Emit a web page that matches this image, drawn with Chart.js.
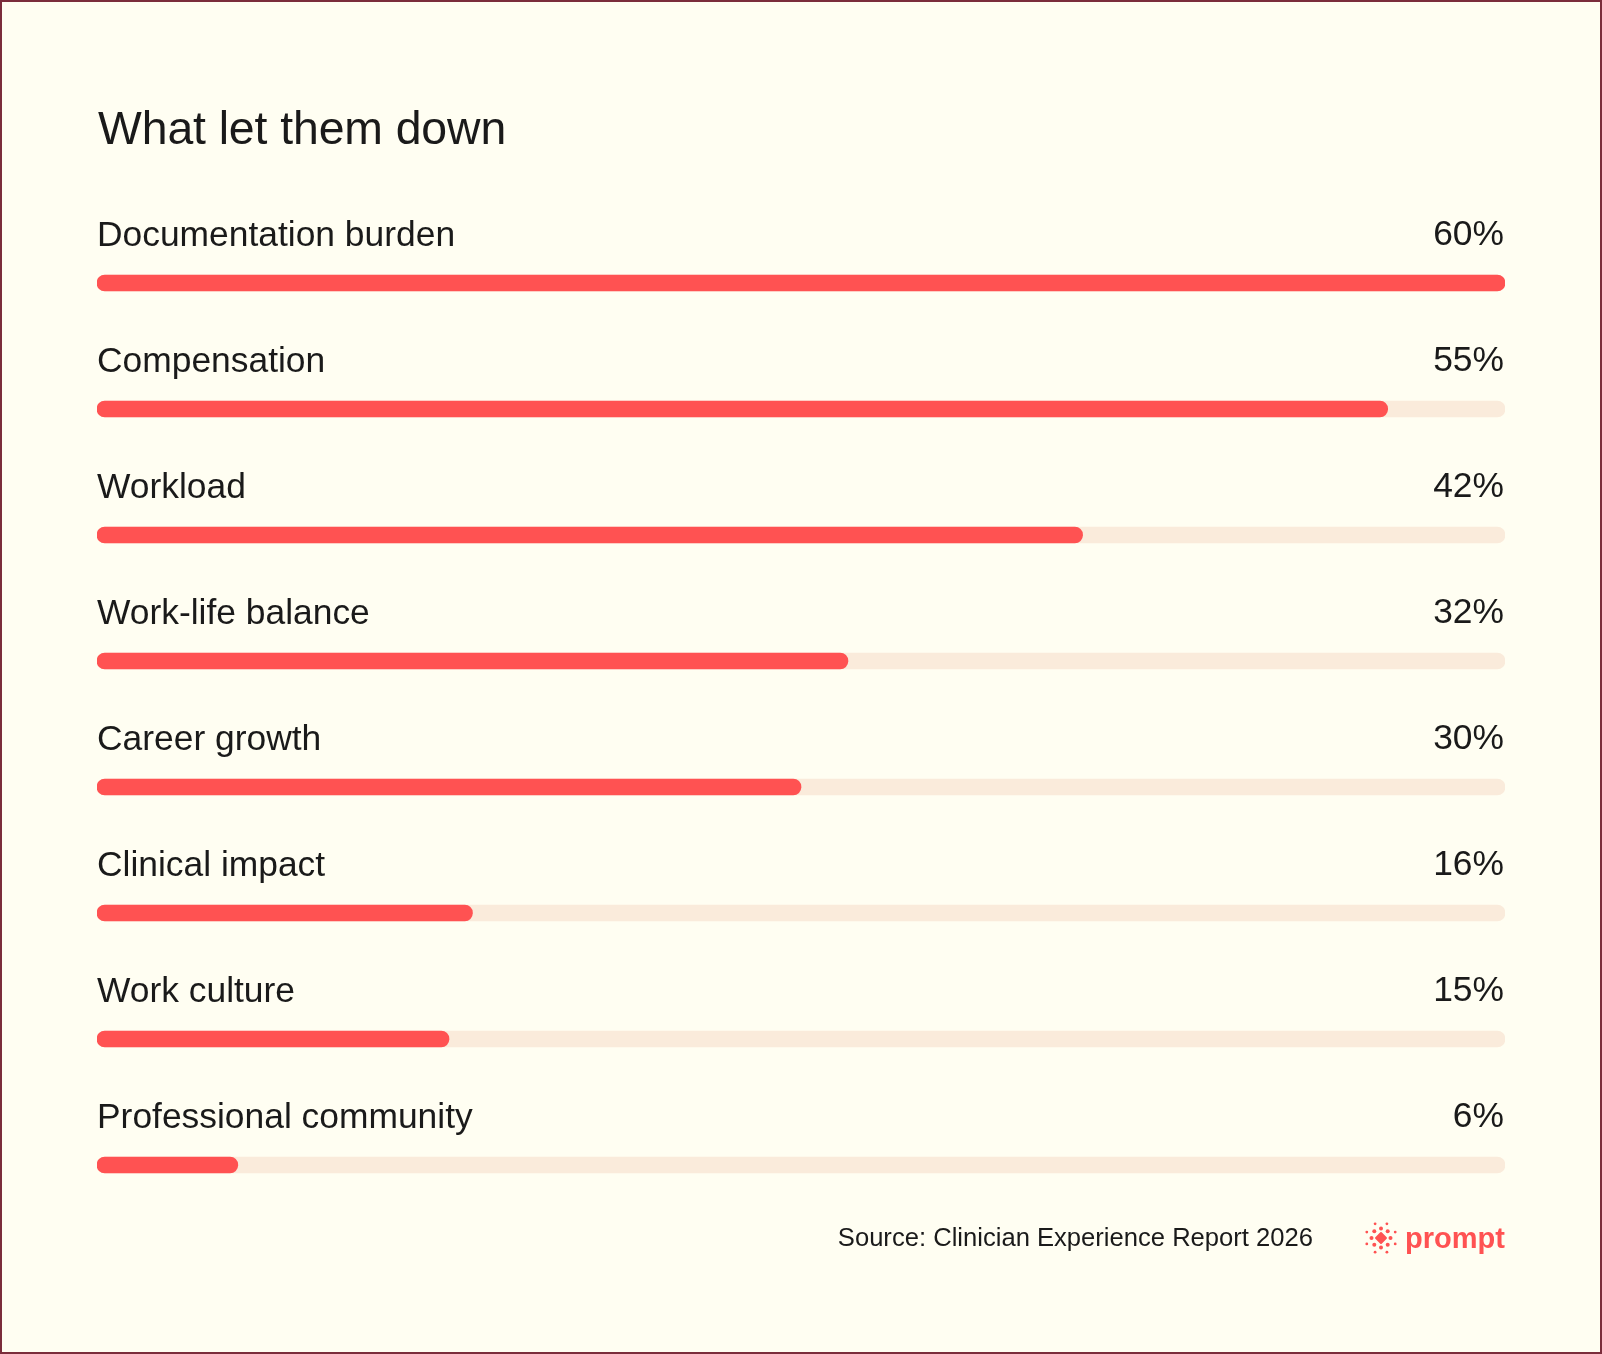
<!DOCTYPE html>
<html>
<head>
<meta charset="utf-8">
<script src="https://cdn.jsdelivr.net/npm/chart.js@4"></script>
<style>
  html, body { margin: 0; padding: 0; background: #FFFEF2; }
  #frame {
    position: relative; width: 1602px; height: 1354px; box-sizing: border-box;
    border: 2px solid #7B2D3B; background: #FFFEF2; overflow: hidden;
    font-family: "Liberation Sans", Arial, sans-serif; color: #1A1A1A;
  }
  #chart { position: absolute; left: -2px; top: -2px; }
  #title { position: absolute; left: 96px; top: 96px; font-size: 46.4px; line-height: 60px; margin: 0; font-weight: 400; letter-spacing: -0.1px; }
  #source { position: absolute; right: 287px; top: 1220px; font-size: 25.6px; line-height: 30px; }
  #logo { position: absolute; left: 1361px; top: 1218px; display: flex; align-items: center; }
  #logo span { color: #FF5252; font-size: 29px; font-weight: 700; margin-left: 6px; letter-spacing: 0px; }
</style>
</head>
<body>
<div id="frame">
  <canvas id="chart" width="1602" height="1354"></canvas>
  <h1 id="title">What let them down</h1>
  <div id="source">Source: Clinician Experience Report 2026</div>
  <div id="logo">
    <svg width="36" height="36" viewBox="-18 -18 36 36">
      <g fill="#FF5252">
        <rect x="-4.5" y="-4.5" width="9" height="9" transform="rotate(45)" rx="1"/>
        <circle cx="0" cy="-9.5" r="2"/><circle cx="6.7" cy="-6.7" r="2"/>
        <circle cx="9.5" cy="0" r="2"/><circle cx="6.7" cy="6.7" r="2"/>
        <circle cx="0" cy="9.5" r="2"/><circle cx="-6.7" cy="6.7" r="2"/>
        <circle cx="-9.5" cy="0" r="2"/><circle cx="-6.7" cy="-6.7" r="2"/>
        <circle cx="5.9" cy="-14.2" r="1.4"/><circle cx="14.2" cy="-5.9" r="1.4"/>
        <circle cx="14.2" cy="5.9" r="1.4"/><circle cx="5.9" cy="14.2" r="1.4"/>
        <circle cx="-5.9" cy="14.2" r="1.4"/><circle cx="-14.2" cy="5.9" r="1.4"/>
        <circle cx="-14.2" cy="-5.9" r="1.4"/><circle cx="-5.9" cy="-14.2" r="1.4"/>
      </g>
    </svg>
    <span>prompt</span>
  </div>
</div>
<script>
const categories = ["Documentation burden", "Compensation", "Workload", "Work-life balance", "Career growth", "Clinical impact", "Work culture", "Professional community"];
const values = [60, 55, 42, 32, 30, 16, 15, 6];
const valueLabels = ["60%", "55%", "42%", "32%", "30%", "16%", "15%", "6%"];
const scaleMax = 60;
const trackValues = categories.map(() => scaleMax);

const labelPlugin = {
  id: 'rowLabels',
  afterDatasetsDraw(chart) {
    const ctx = chart.ctx;
    const yScale = chart.scales.y;
    const area = chart.chartArea;
    ctx.save();
    ctx.fillStyle = '#1A1A1A';
    ctx.font = '35.4px "Liberation Sans", Arial, sans-serif';
    ctx.textBaseline = 'alphabetic';
    categories.forEach((c, i) => {
      const y = yScale.getPixelForValue(i);
      ctx.textAlign = 'left';
      ctx.fillText(c, area.left, y - 37);
      ctx.textAlign = 'right';
      ctx.fillText(valueLabels[i], area.right - 1, y - 38);
    });
    ctx.restore();
  }
};

new Chart(document.getElementById('chart'), {
  type: 'bar',
  data: {
    labels: categories,
    datasets: [
      {
        label: 'Share',
        data: values,
        backgroundColor: '#FF5252',
        borderRadius: 8,
        borderSkipped: false,
        barThickness: 16,
        grouped: false,
        order: 1
      },
      {
        label: 'Track',
        data: trackValues,
        backgroundColor: '#FAEBDB',
        borderRadius: 8,
        borderSkipped: false,
        barThickness: 16,
        grouped: false,
        order: 2
      }
    ]
  },
  options: {
    indexAxis: 'y',
    responsive: false,
    animation: false,
    devicePixelRatio: 1,
    layout: { padding: { left: 97, right: 97, top: 220, bottom: 126 } },
    scales: {
      x: { display: false, min: 0, max: scaleMax },
      y: { display: false }
    },
    plugins: { legend: { display: false }, tooltip: { enabled: false }, title: { display: false } }
  },
  plugins: [labelPlugin]
});
</script>
</body>
</html>
